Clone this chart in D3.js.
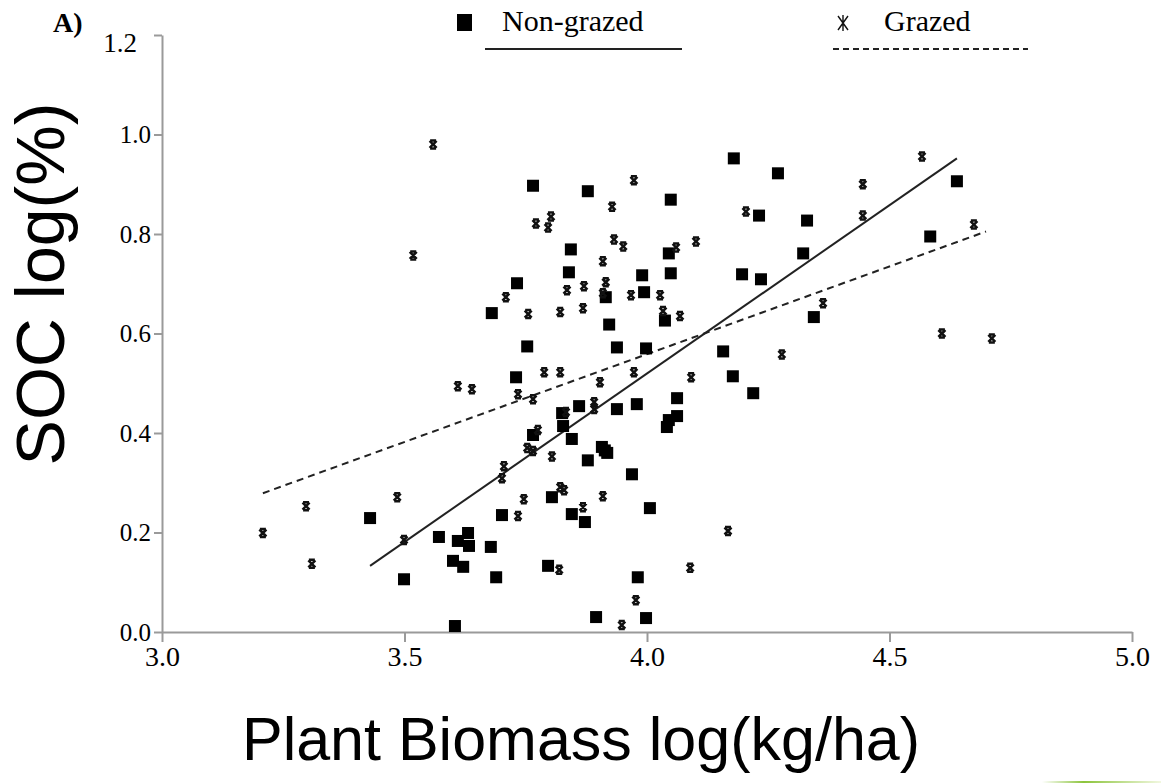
<!DOCTYPE html>
<html><head><meta charset="utf-8">
<script src="https://cdn.jsdelivr.net/npm/d3@7"></script>
<style>body{margin:0;background:#fff}svg{display:block}</style>
</head><body>
<script>
// Data
const nonGrazedX = [3.429,3.499,3.571,3.600,3.604,3.610,3.621,3.631,3.633,3.678,3.680,3.689,3.701,3.730,3.732,3.753,3.765,3.765,3.796,3.804,3.825,3.827,3.839,3.843,3.845,3.845,3.860,3.872,3.878,3.878,3.895,3.907,3.913,3.918,3.915,3.922,3.938,3.938,3.969,3.979,3.981,3.990,3.994,3.998,3.998,4.006,4.037,4.041,4.045,4.045,4.049,4.049,4.062,4.062,4.157,4.177,4.179,4.196,4.219,4.231,4.235,4.270,4.322,4.330,4.344,4.584,4.639];
const nonGrazedY = [0.229,0.106,0.191,0.143,0.012,0.183,0.131,0.199,0.173,0.171,0.641,0.110,0.235,0.512,0.701,0.574,0.897,0.396,0.133,0.271,0.440,0.414,0.723,0.769,0.388,0.237,0.454,0.221,0.886,0.345,0.030,0.372,0.365,0.360,0.673,0.618,0.572,0.448,0.317,0.458,0.110,0.717,0.683,0.570,0.028,0.249,0.626,0.412,0.426,0.761,0.721,0.869,0.470,0.434,0.564,0.514,0.952,0.719,0.480,0.837,0.709,0.922,0.761,0.827,0.633,0.795,0.906];
const grazedX = [3.208,3.297,3.309,3.485,3.499,3.518,3.559,3.610,3.639,3.701,3.705,3.709,3.734,3.734,3.746,3.753,3.755,3.765,3.765,3.771,3.775,3.788,3.796,3.802,3.804,3.819,3.821,3.821,3.821,3.829,3.833,3.835,3.868,3.868,3.870,3.891,3.891,3.903,3.909,3.909,3.909,3.915,3.928,3.932,3.948,3.951,3.967,3.973,3.973,3.977,4.027,4.033,4.060,4.068,4.089,4.091,4.101,4.167,4.204,4.278,4.363,4.445,4.445,4.567,4.608,4.674,4.711];
const grazedY = [0.199,0.253,0.137,0.271,0.185,0.757,0.980,0.494,0.488,0.309,0.333,0.673,0.478,0.233,0.267,0.370,0.639,0.468,0.364,0.821,0.406,0.522,0.813,0.835,0.353,0.125,0.643,0.522,0.291,0.285,0.442,0.687,0.651,0.251,0.695,0.462,0.448,0.502,0.745,0.681,0.273,0.703,0.855,0.789,0.014,0.775,0.677,0.908,0.522,0.064,0.677,0.645,0.773,0.635,0.129,0.512,0.785,0.203,0.845,0.558,0.661,0.900,0.837,0.956,0.600,0.819,0.590];
// Fitted lines (endpoints)
const nonGrazedFitX = [3.429, 4.639];
const nonGrazedFitY = [0.133, 0.952];
const grazedFitX = [3.208, 4.699];
const grazedFitY = [0.279, 0.805];
const xTicks = [3.0, 3.5, 4.0, 4.5, 5.0];
const yTicks = [0.0, 0.2, 0.4, 0.6, 0.8, 1.0, 1.2];
const seriesNames = ["Non-grazed", "Grazed"];
const xTitle = "Plant Biomass log(kg/ha)";
const yTitle = "SOC log(%)";
const panelLabel = "A)";

const W = 1161, H = 783;
const svg = d3.select("body").append("svg").attr("width", W).attr("height", H);

const x = d3.scaleLinear().domain([3, 5]).range([162, 1132]);
const y = d3.scaleLinear().domain([0, 1.2]).range([632, 35]);

const axisColor = "#9a9a9a";
const serif = "'Liberation Serif','Times New Roman',serif";
const sans = "'Liberation Sans',Arial,sans-serif";

// Y axis
const gy = svg.append("g").attr("transform", `translate(${x(3)},0)`)
  .call(d3.axisLeft(y).tickValues(yTicks).tickSize(8).tickSizeOuter(0).tickFormat(d3.format(".1f")));
// X axis
const gx = svg.append("g").attr("transform", `translate(0,${y(0)})`)
  .call(d3.axisBottom(x).tickValues(xTicks).tickSize(10).tickSizeOuter(0).tickFormat(d3.format(".1f")));

[gx, gy].forEach(g => {
  g.select(".domain").attr("stroke", axisColor).attr("stroke-width", 2);
  g.selectAll(".tick line").attr("stroke", axisColor).attr("stroke-width", 2);
  g.selectAll(".tick text").attr("fill", "#000").style("font-family", serif);
});
gy.selectAll(".tick text").attr("x", -11).style("font-size", "25px");
gy.selectAll(".tick").filter(d => d === 1.2).select("text")
  .attr("x", -25).attr("dy", "0.62em").style("font-size", "27px");
gx.selectAll(".tick text").attr("y", 14).style("font-size", "28px");

// Panel label
svg.append("text").attr("x", 53).attr("y", 32).text(panelLabel)
  .style("font-family", serif).style("font-size", "28px").style("font-weight", "bold");

// Regression lines
const line = d3.line().x(d => x(d[0])).y(d => y(d[1]));
svg.append("path").datum(d3.zip(nonGrazedFitX, nonGrazedFitY)).attr("d", line)
  .attr("fill", "none").attr("stroke", "#222").attr("stroke-width", 2);
svg.append("path").datum(d3.zip(grazedFitX, grazedFitY)).attr("d", line)
  .attr("fill", "none").attr("stroke", "#222").attr("stroke-width", 2).attr("stroke-dasharray", "7,5");

// Markers
const sq = 12;
svg.append("g").selectAll("rect").data(d3.zip(nonGrazedX, nonGrazedY)).join("rect")
  .attr("x", d => x(d[0]) - sq / 2).attr("y", d => y(d[1]) - sq / 2)
  .attr("width", sq).attr("height", sq).attr("fill", "#000");

const star = "M-3.5,-3.5L3.5,3.5M-3.5,3.5L3.5,-3.5M-3,-4L3,-4M-3,4L3,4";
svg.append("g").selectAll("path").data(d3.zip(grazedX, grazedY)).join("path")
  .attr("transform", d => `translate(${x(d[0])},${y(d[1])})`)
  .attr("d", star).attr("fill", "none").attr("stroke", "#111").attr("stroke-width", 2.5);

// Legend
const lg = svg.append("g");
lg.append("rect").attr("x", 457).attr("y", 14).attr("width", 15).attr("height", 17).attr("fill", "#000");
lg.append("text").attr("x", 502).attr("y", 31).text(seriesNames[0])
  .style("font-family", serif).style("font-size", "30px");
lg.append("line").attr("x1", 485).attr("x2", 682).attr("y1", 49).attr("y2", 49)
  .attr("stroke", "#222").attr("stroke-width", 2);
lg.append("path").attr("transform", "translate(843,23)")
  .attr("d", "M-5,-7L5,7M-5,7L5,-7M0,-8L0,8").attr("fill", "none").attr("stroke", "#111").attr("stroke-width", 1.4);
lg.append("text").attr("x", 884).attr("y", 31).text(seriesNames[1])
  .style("font-family", serif).style("font-size", "30px");
lg.append("line").attr("x1", 833).attr("x2", 1028).attr("y1", 49).attr("y2", 49)
  .attr("stroke", "#222").attr("stroke-width", 2).attr("stroke-dasharray", "6,4");

// Axis titles
svg.append("text").attr("x", 581).attr("y", 760).attr("text-anchor", "middle").text(xTitle)
  .style("font-family", sans).style("font-size", "61px");
svg.append("text").attr("transform", "translate(64,284) rotate(-90)").attr("text-anchor", "middle").text(yTitle)
  .style("font-family", sans).style("font-size", "68px");

// Decorative green strip at bottom right
const grad = svg.append("defs").append("linearGradient").attr("id", "gr").attr("x1", "0").attr("x2", "1");
grad.append("stop").attr("offset", "0").attr("stop-color", "#ffffff");
grad.append("stop").attr("offset", "0.35").attr("stop-color", "#8cc43c");
grad.append("stop").attr("offset", "1").attr("stop-color", "#f2f8e0");
svg.append("rect").attr("x", 1042).attr("y", 781).attr("width", 119).attr("height", 2).attr("fill", "url(#gr)");
</script>
</body></html>
